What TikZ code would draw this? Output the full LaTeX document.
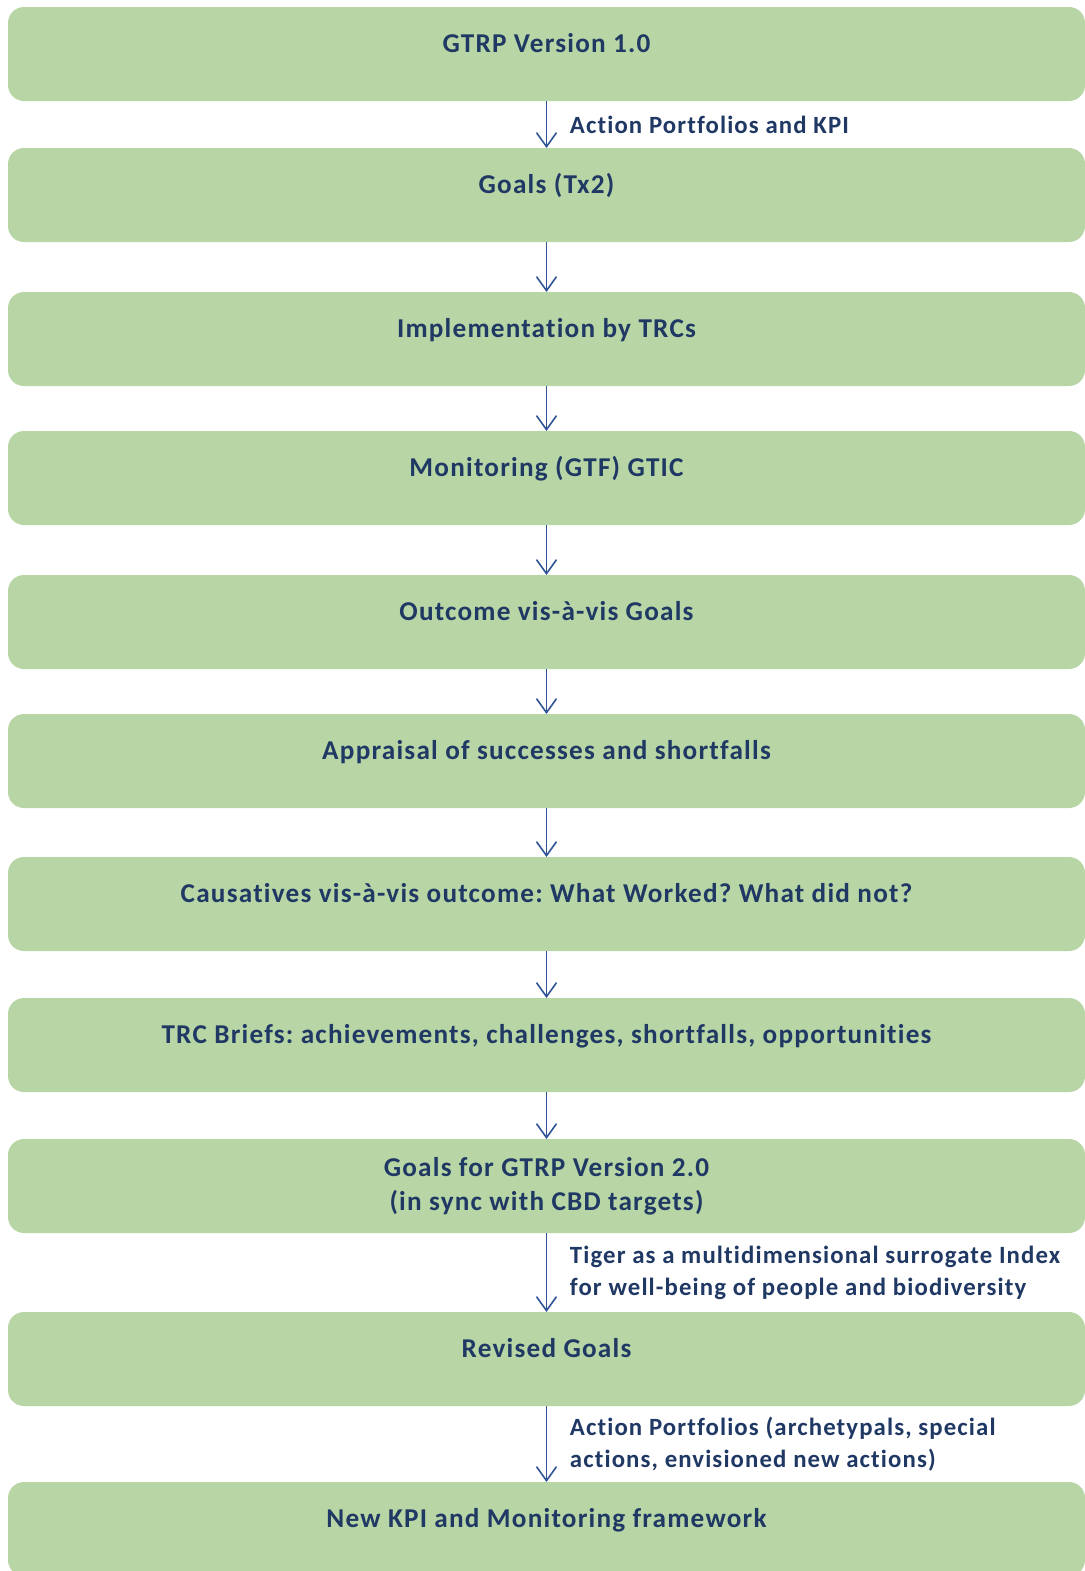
\documentclass[tikz,border=0pt]{standalone}
\usepackage{fontspec}
\setmainfont{Carlito}[LetterSpace=4.5, Ligatures={NoCommon}]
\usetikzlibrary{
    arrows.meta,
    positioning
}

\definecolor{stagegreen}{HTML}{B8D6A5}
\definecolor{stagetext}{HTML}{1F3864}
\definecolor{flowblue}{HTML}{2F5597}

\begin{document}
\frenchspacing
\begin{tikzpicture}[
    stage/.style={rectangle, rounded corners=8pt, minimum width=538.5pt, minimum height=47pt,
                  inner sep=0pt, outer sep=0pt, align=center, fill=stagegreen, text=stagetext,
                  font=\bfseries\fontsize{13.6}{17}\selectfont, text height=10pt, text depth=12pt},
    flow/.style={draw=flowblue, line width=0.8pt, -{Straight Barb[length=7pt,width=10pt]}},
    note/.style={right, xshift=8pt, align=left, text=stagetext,
                 font=\bfseries\fontsize{12.4}{16}\selectfont}
]
    \useasboundingbox (0,0) rectangle (542.5pt,-785.5pt);

    % Stages of the cycle
    \node (v1) [stage, anchor=north west] at (4pt,-3.5pt) {GTRP Version 1.0};
    \node (goals) [stage, below=23.5pt of v1] {Goals (Tx2)};
    \node (impl) [stage, below=25pt of goals] {Implementation by TRCs};
    \node (monitor) [stage, below=22.5pt of impl] {Monitoring (GTF) GTIC};
    \node (outcome) [stage, below=25pt of monitor] {Outcome vis-à-vis Goals};
    \node (appraisal) [stage, below=22.5pt of outcome] {Appraisal of successes and shortfalls};
    \node (causes) [stage, below=24.5pt of appraisal] {Causatives vis-à-vis outcome: What Worked? What did not?};
    \node (briefs) [stage, below=23.5pt of causes] {TRC Briefs: achievements, challenges, shortfalls, opportunities};
    \node (v2) [stage, below=23.5pt of briefs, text height=, text depth=] {Goals for GTRP Version 2.0\\(in sync with CBD targets)};
    \node (revised) [stage, below=39.5pt of v2] {Revised Goals};
    \node (newkpi) [stage, below=38pt of revised] {New KPI and Monitoring framework};

    % Connections
    \draw [flow] (v1) -- node[note] (apkpi) {Action Portfolios and KPI} (goals);
    \draw [flow] (goals) -- (impl);
    \draw [flow] (impl) -- (monitor);
    \draw [flow] (monitor) -- (outcome);
    \draw [flow] (outcome) -- (appraisal);
    \draw [flow] (appraisal) -- (causes);
    \draw [flow] (causes) -- (briefs);
    \draw [flow] (briefs) -- (v2);
    \draw [flow] (v2) -- node[note] (tiger) {Tiger as a multidimensional surrogate Index\\for well-being of people and biodiversity} (revised);
    \draw [flow] (revised) -- node[note] (apnew) {Action Portfolios (archetypals, special\\actions, envisioned new actions)} (newkpi);

\end{tikzpicture}
\end{document}
